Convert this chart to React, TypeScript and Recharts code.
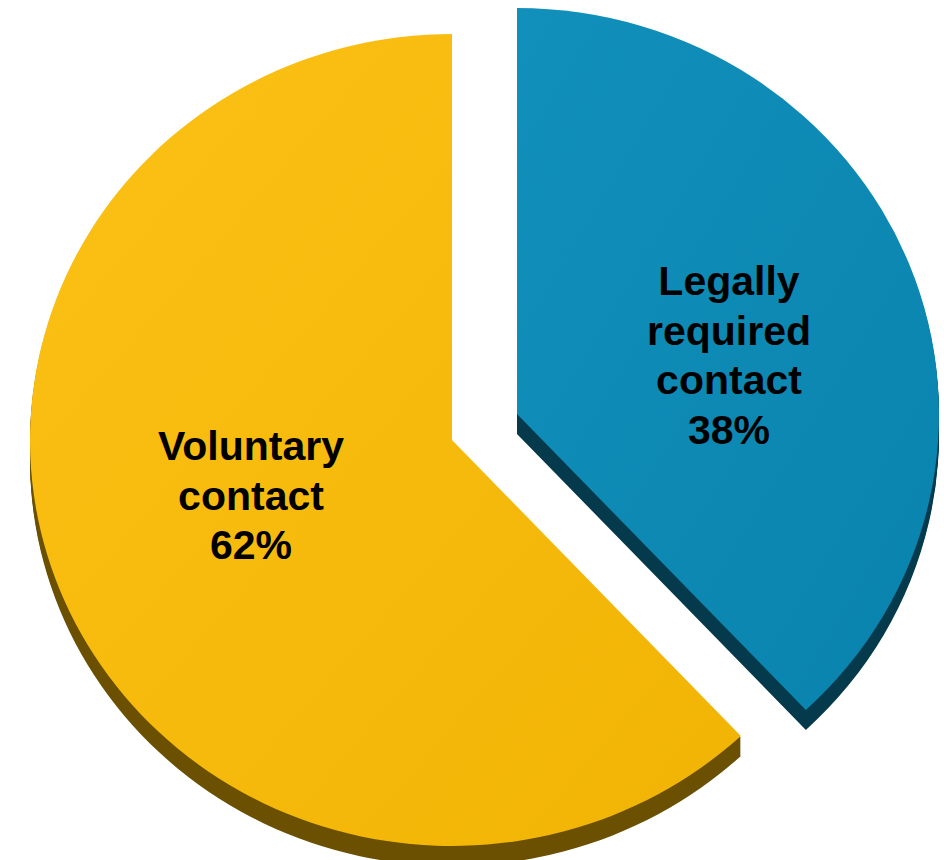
import { PieChart, Pie, Cell } from 'recharts';

// slices, clockwise from 12 o'clock
const categories = ['Legally required contact', 'Voluntary contact'];
const shares = [38, 62];
const labelLines = [['Legally', 'required', 'contact'], ['Voluntary', 'contact']];

const faceFills = ['url(#blueFace)', 'url(#yellowFace)'];
const sideFills = ['#053a4d', '#6a5000'];

const data = categories.map((name, i) => ({ name, value: shares[i] }));

// slight vertical squash to mimic the tilted 3D pie
const S = 0.962;
const R = 422;
const centers = [
  { cx: 517, cy: 414 / S }, // exploded blue slice
  { cx: 452, cy: 440 / S }, // yellow slice
];
const depths = [2, 4, 6, 8, 10, 12, 14, 16, 18, 20];
// label block anchor, in screen px relative to the slice centre
const labelOffsets = [
  { dx: 212, dy: -119 },
  { dx: -201, dy: 20 },
];

function makeLabel(only: number) {
  return (props: any) => {
    if (props.index !== only) return null;
    const off = labelOffsets[only];
    const x = props.cx + off.dx;
    const y = props.cy + off.dy / S;
    const lines = [...labelLines[only], `${shares[only]}%`];
    return (
      <g transform={`translate(${x}, ${y}) scale(1, ${1 / S})`}>
        <text
          textAnchor="middle"
          fontFamily="'Liberation Sans', Arial, sans-serif"
          fontWeight="bold"
          fontSize={41}
          fill="#000"
        >
          {lines.map((l, k) => (
            <tspan key={k} x={0} y={k * 49.5}>{l}</tspan>
          ))}
        </text>
      </g>
    );
  };
}

export default function App() {
  return (
    <div style={{ position: 'absolute', left: 0, top: 0, width: 944, height: 860, overflow: 'hidden', background: '#fff' }}>
      <div style={{ transform: `scaleY(${S})`, transformOrigin: '0 0' }}>
        <PieChart width={944} height={920} margin={{ top: 0, right: 0, bottom: 0, left: 0 }}>
          <defs>
            <linearGradient id="yellowFace" x1="0" y1="0" x2="1" y2="1">
              <stop offset="0%" stopColor="#fcc116" />
              <stop offset="100%" stopColor="#f1b404" />
            </linearGradient>
            <linearGradient id="blueFace" x1="0" y1="0" x2="1" y2="1">
              <stop offset="0%" stopColor="#1190bb" />
              <stop offset="100%" stopColor="#0983ad" />
            </linearGradient>
          </defs>
          {/* side walls */}
          {[1, 0].map((s) =>
            depths.map((d) => (
              <Pie
                key={`side-${s}-${d}`}
                data={data}
                dataKey="value"
                cx={centers[s].cx}
                cy={centers[s].cy + d / S}
                outerRadius={R}
                startAngle={90}
                endAngle={-270}
                stroke="none"
                isAnimationActive={false}
                labelLine={false}
              >
                {data.map((_, i) => (
                  <Cell key={i} fill={i === s ? sideFills[i] : 'none'} stroke="none" />
                ))}
              </Pie>
            ))
          )}
          {/* top faces */}
          {[1, 0].map((s) => (
            <Pie
              key={`face-${s}`}
              data={data}
              dataKey="value"
              cx={centers[s].cx}
              cy={centers[s].cy}
              outerRadius={R}
              startAngle={90}
              endAngle={-270}
              stroke="none"
              isAnimationActive={false}
              labelLine={false}
              label={makeLabel(s)}
            >
              {data.map((_, i) => (
                <Cell key={i} fill={i === s ? faceFills[i] : 'none'} stroke="none" />
              ))}
            </Pie>
          ))}
        </PieChart>
      </div>
    </div>
  );
}
